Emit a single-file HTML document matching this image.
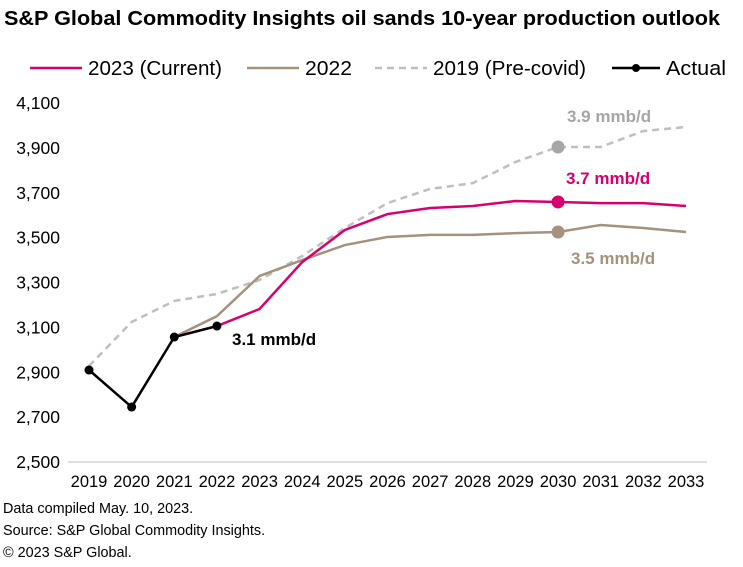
<!DOCTYPE html>
<html><head><meta charset="utf-8"><style>
body{margin:0;background:#fff;font-family:"Liberation Sans",Arial,sans-serif;}
svg text{font-family:"Liberation Sans",Arial,sans-serif;}
</style></head><body>
<svg id="chart" width="743" height="562" xmlns="http://www.w3.org/2000/svg">
<text x="4" y="25" font-size="20" font-weight="bold" fill="#000" textLength="716" lengthAdjust="spacingAndGlyphs">S&amp;P Global Commodity Insights oil sands 10-year production outlook</text>
<g>
<line x1="30" y1="68" x2="82" y2="68" stroke="#d6006e" stroke-width="2.5"/>
<text x="88" y="75" font-size="20" fill="#000" textLength="134" lengthAdjust="spacingAndGlyphs">2023 (Current)</text>
<line x1="247" y1="68" x2="299" y2="68" stroke="#a5927c" stroke-width="2.5"/>
<text x="305" y="75" font-size="20" fill="#000" textLength="47" lengthAdjust="spacingAndGlyphs">2022</text>
<line x1="375" y1="68" x2="427" y2="68" stroke="#bfbfbf" stroke-width="2.5" stroke-dasharray="7,5"/>
<text x="433" y="75" font-size="20" fill="#000" textLength="153" lengthAdjust="spacingAndGlyphs">2019 (Pre-covid)</text>
<line x1="612" y1="68" x2="660" y2="68" stroke="#000" stroke-width="2.5"/>
<circle cx="636" cy="68" r="4" fill="#000"/>
<text x="666" y="75" font-size="20" fill="#000" textLength="60" lengthAdjust="spacingAndGlyphs">Actual</text>
</g>
<g id="axes"></g>
<g id="series"></g>
<text x="567" y="122" font-size="17" font-weight="bold" fill="#a6a6a6">3.9 mmb/d</text>
<text x="566" y="184" font-size="17" font-weight="bold" fill="#d6006e">3.7 mmb/d</text>
<text x="571" y="264" font-size="17" font-weight="bold" fill="#a5927c">3.5 mmb/d</text>
<text x="232" y="345" font-size="17" font-weight="bold" fill="#000">3.1 mmb/d</text>
<text x="3" y="513" font-size="14.4" fill="#000">Data compiled May.  10, 2023.</text>
<text x="3" y="535" font-size="14.4" fill="#000">Source: S&amp;P Global Commodity Insights.</text>
<text x="3" y="557" font-size="14.4" fill="#000">© 2023 S&amp;P Global.</text>
</svg>
<script>
const years=[2019,2020,2021,2022,2023,2024,2025,2026,2027,2028,2029,2030,2031,2032,2033];
const yTicks=[2500,2700,2900,3100,3300,3500,3700,3900,4100];
const actual=[2910,2745,3057,3106,null,null,null,null,null,null,null,null,null,null,null];
const s2023=[null,null,3057,3106,3182,3391,3534,3605,3632,3641,3663,3659,3654,3654,3641];
const s2022=[null,null,3057,3150,3329,3400,3467,3503,3512,3512,3520,3525,3556,3543,3525];
const s2019=[2928,3124,3218,3249,3311,3418,3543,3654,3717,3743,3837,3904,3904,3975,3993];
const NS="http://www.w3.org/2000/svg";
const x0=89,x1=686,y0=462,y1=103,vmin=2500,vmax=4100;
const xs=i=>x0+(x1-x0)*i/(years.length-1);
const ys=v=>y0-(v-vmin)/(vmax-vmin)*(y0-y1);
function mk(t,a,p){const e=document.createElementNS(NS,t);for(const k in a)e.setAttribute(k,a[k]);p.appendChild(e);return e;}
const ax=document.getElementById('axes');
const axl=mk('line',{x1:68,x2:707,y1:y0,y2:y0,stroke:'#bfbfbf','stroke-width':1},ax);


yTicks.forEach(v=>{const t=mk('text',{x:60,y:ys(v)+6,'font-size':17.5,'text-anchor':'end',fill:'#000'},ax);t.textContent=v.toLocaleString('en-US');

});
years.forEach((y,i)=>{const t=mk('text',{x:xs(i),y:487,'font-size':16.5,'text-anchor':'middle',fill:'#000'},ax);t.textContent=y;

});
const sg=document.getElementById('series');
function line(data,color,dash,name){let d='';data.forEach((v,i)=>{if(v==null)return;d+=(d?'L':'M')+xs(i)+','+ys(v);});
const p=mk('path',{d:d,fill:'none',stroke:color,'stroke-width':2.5,'stroke-dasharray':dash||'none'},sg);

}
line(s2019,'#bfbfbf','7,5','line-2019');
line(s2022,'#a5927c','','line-2022');
line(s2023,'#d6006e','','line-2023');
line(actual,'#000','','line-actual');
actual.forEach((v,i)=>{if(v==null)return;const c=mk('circle',{cx:xs(i),cy:ys(v),r:4.5,fill:'#000'},sg);

});
const i30=years.indexOf(2030);
[[s2019,'#a6a6a6','marker-2019-2030'],[s2022,'#a5927c','marker-2022-2030'],[s2023,'#d6006e','marker-2023-2030']].forEach(([d,c,n])=>{
const m=mk('circle',{cx:xs(i30),cy:ys(d[i30]),r:6.5,fill:c},sg);

});
</script>
</body></html>
